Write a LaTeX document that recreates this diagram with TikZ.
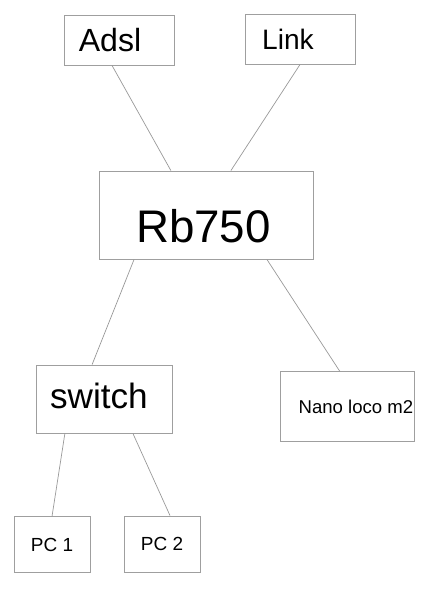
\documentclass[tikz,border=0pt]{standalone}
\usepackage{fontspec}
\setmainfont{Liberation Sans}
\usetikzlibrary{positioning}
\tikzset{
    box/.style={rectangle, draw=gray!75, line width=0.6pt, inner sep=0pt},
    link/.style={draw=gray!80, line width=0.5pt}
}

\begin{document}
\begin{tikzpicture}[x=0.025cm, y=-0.025cm]
    \useasboundingbox (0,0) rectangle (428,600);
    % Nodes
    \node[box, minimum width=2.75cm, minimum height=1.25cm, font=\fontsize{22.8pt}{26pt}\selectfont] (adsl) at (119,40) {Adsl\hspace*{0.45cm}};
    \node[box, minimum width=2.75cm, minimum height=1.23cm, font=\fontsize{20pt}{24pt}\selectfont] (lnk) at (300,39.5) {Link\hspace*{0.6cm}};
    \node[box, minimum width=5.33cm, minimum height=2.2cm, text height=39pt, text depth=0pt, font=\fontsize{32.5pt}{38pt}\selectfont] (rb) at (206.5,215) {Rb750\hspace*{0.15cm}};
    \node[box, minimum width=3.38cm, minimum height=1.7cm, text height=13pt, text depth=0pt, font=\fontsize{25pt}{30pt}\selectfont] (sw) at (104.5,399) {switch\hspace*{0.28cm}};
    \node[box, minimum width=3.33cm, minimum height=1.73cm, font=\fontsize{13.2pt}{16pt}\selectfont] (nano) at (347.5,406.5) {\hspace*{0.42cm}Nano loco m2};
    \node[box, minimum width=1.9cm, minimum height=1.38cm, font=\fontsize{13.5pt}{16pt}\selectfont] (pc1) at (52,544.5) {PC 1};
    \node[box, minimum width=1.9cm, minimum height=1.4cm, font=\fontsize{13.5pt}{16pt}\selectfont] (pc2) at (162,544) {PC 2};

    % edges
    \draw[link] ([xshift=-0.175cm]adsl.south) -- ([xshift=-0.89cm]rb.north);
    \draw[link] (lnk.south) -- ([xshift=0.61cm]rb.north);
    \draw[link] ([xshift=-1.81cm]rb.south) -- ([xshift=-0.31cm]sw.north);
    \draw[link] ([xshift=1.51cm]rb.south) -- ([xshift=-0.19cm]nano.north);
    \draw[link] ([xshift=-0.99cm]sw.south) -- (pc1.north);
    \draw[link] ([xshift=0.71cm]sw.south) -- ([xshift=0.2cm]pc2.north);
\end{tikzpicture}
\end{document}
